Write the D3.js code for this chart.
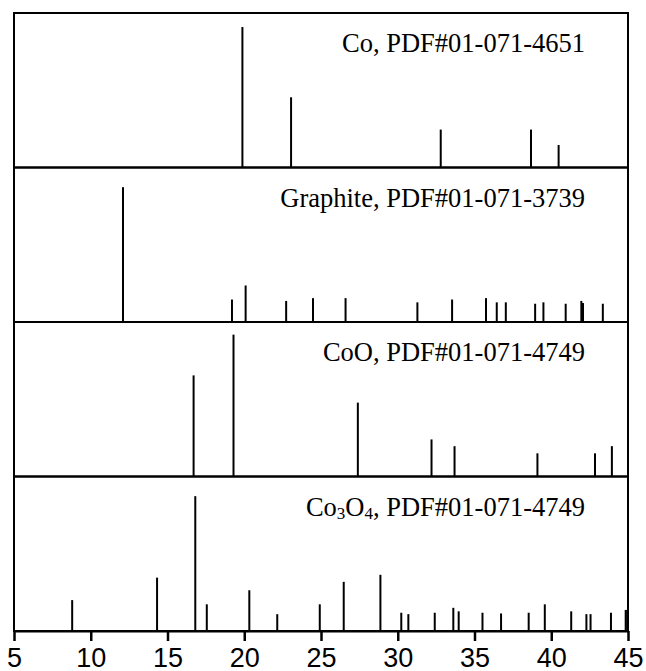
<!DOCTYPE html>
<html>
<head>
<meta charset="utf-8">
<script src="https://cdn.jsdelivr.net/npm/d3@7"></script>
<style>
  body { margin: 0; background: #fff; }
</style>
</head>
<body>
<div class="xrd-plot"></div>
<script>
// Reference patterns, top to bottom
const phases = ["Co", "Graphite", "CoO", "Co3O4"];
const cards = ["PDF#01-071-4651", "PDF#01-071-3739", "PDF#01-071-4749", "PDF#01-071-4749"];

// 2-theta positions and relative intensities of each stick
const coPos = [19.88, 23.05, 32.8, 38.68, 40.48];
const coInt = [100, 50, 27, 27, 16];

const graphitePos = [12.1, 19.2, 20.09, 22.73, 24.48, 26.6, 31.28, 33.54, 35.75, 36.45, 37.04, 38.95, 39.49, 40.94, 41.96, 42.07, 43.36];
const graphiteInt = [96, 16, 26, 15, 17, 17, 14, 16, 17, 14, 14, 13, 14, 13, 15, 13.5, 13];

const cooPos = [16.7, 19.3, 27.4, 32.2, 33.7, 39.1, 42.85, 43.95];
const cooInt = [72, 101, 52.6, 26.4, 21.6, 16.5, 16.5, 21.6];

const co3o4Pos = [8.79, 14.32, 16.81, 17.56, 20.33, 22.15, 24.92, 26.48, 28.87, 30.23, 30.69, 32.41, 33.62, 33.97, 35.52, 36.73, 38.53, 39.58, 41.3, 42.29, 42.56, 43.89, 44.85, 44.95];
const co3o4Int = [22, 38, 96, 19, 29, 12, 19, 35, 40, 13, 12, 13, 16.5, 14, 13, 12.5, 13, 19, 14, 12, 12, 13, 15, 15];

const xTicks = [5, 10, 15, 20, 25, 30, 35, 40, 45];

const patterns = [
  { name: phases[0], card: cards[0], pos: coPos, int: coInt },
  { name: phases[1], card: cards[1], pos: graphitePos, int: graphiteInt },
  { name: phases[2], card: cards[2], pos: cooPos, int: cooInt },
  { name: phases[3], card: cards[3], pos: co3o4Pos, int: co3o4Int }
];

const WIDTH = 646, HEIGHT = 671;
const LEFT = 14, RIGHT = 628, TOP = 13, BOTTOM = 631;

const svg = d3.select(".xrd-plot").append("svg")
  .attr("width", WIDTH)
  .attr("height", HEIGHT);

const x = d3.scaleLinear().domain([5, 45]).range([LEFT, RIGHT]);

// one horizontal band per pattern
const band = d3.scaleBand().domain(phases).range([TOP, BOTTOM]).padding(0);

patterns.forEach(p => {
  const top = band(p.name);
  const h = band.bandwidth();
  const y = d3.scaleLinear().domain([0, 110]).range([top + h, top]);

  const g = svg.append("g");

  // sticks
  g.selectAll("line")
    .data(d3.zip(p.pos, p.int))
    .join("line")
    .attr("x1", d => x(d[0]))
    .attr("x2", d => x(d[0]))
    .attr("y1", y(0))
    .attr("y2", d => y(d[1]))
    .attr("stroke", "black")
    .attr("stroke-width", 2);

  // panel frame
  g.append("rect")
    .attr("x", LEFT)
    .attr("y", top)
    .attr("width", RIGHT - LEFT)
    .attr("height", h)
    .attr("fill", "none")
    .attr("stroke", "black")
    .attr("stroke-width", 2);

  // label, right aligned
  const label = g.append("text")
    .attr("x", 585)
    .attr("y", top + 39)
    .attr("text-anchor", "end")
    .attr("font-family", "'Liberation Serif', 'Times New Roman', serif")
    .attr("font-size", 26.5)
    .attr("fill", "black");

  if (p.name === "Co3O4") {
    label.append("tspan").text("Co");
    label.append("tspan").attr("font-size", 17).attr("dy", 3).text("3");
    label.append("tspan").attr("dy", -3).text("O");
    label.append("tspan").attr("font-size", 17).attr("dy", 3).text("4");
    label.append("tspan").attr("dy", -3).text(", " + p.card);
  } else {
    label.text(p.name + ", " + p.card);
  }
});

// bottom axis
const xAxis = svg.append("g")
  .attr("transform", `translate(0, ${BOTTOM})`)
  .call(d3.axisBottom(x).tickValues(xTicks).tickSize(10).tickSizeOuter(0).tickFormat(d3.format("d")));

xAxis.select(".domain").attr("stroke", "black").attr("stroke-width", 2);
xAxis.selectAll(".tick line").attr("stroke", "black").attr("stroke-width", 2.5);
xAxis.selectAll(".tick text")
  .attr("y", 35.5)
  .attr("dy", 0)
  .attr("font-family", "'Liberation Sans', Arial, sans-serif")
  .attr("font-size", 27)
  .attr("fill", "black");
</script>
</body>
</html>
